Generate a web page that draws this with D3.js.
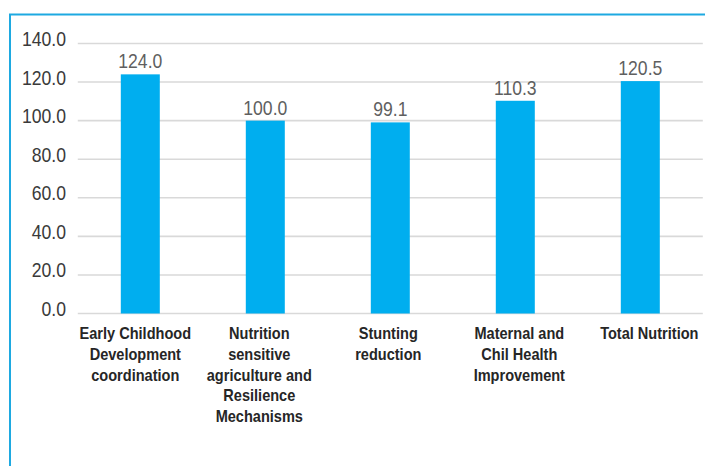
<!DOCTYPE html>
<html><head><meta charset="utf-8">
<script src="https://cdn.jsdelivr.net/npm/d3@7"></script>
<style>
html,body{margin:0;padding:0;background:#fff;}
svg{display:block;}
</style></head>
<body>
<svg id="chart" width="705" height="466"></svg>
<script>
const categories = ["Early Childhood Development coordination","Nutrition sensitive agriculture and Resilience Mechanisms","Stunting reduction","Maternal and Chil Health Improvement","Total Nutrition"];
const categoryLines = [
  ["Early Childhood","Development","coordination"],
  ["Nutrition","sensitive","agriculture and","Resilience","Mechanisms"],
  ["Stunting","reduction"],
  ["Maternal and","Chil Health","Improvement"],
  ["Total Nutrition"]
];
const values = [124.0, 100.0, 99.1, 110.3, 120.5];
const yTicks = [0, 20, 40, 60, 80, 100, 120, 140];

// layout: horizontal nudge of each category label block (px), as in the original
const labelNudge = [-5, -6, -2, 4, 9];

const svg = d3.select("#chart");
const font = "'Liberation Sans',Arial,sans-serif";
const fmt = d3.format(".1f");

// frame lines (top and left)
svg.append("line").attr("x1",9).attr("x2",705).attr("y1",14.5).attr("y2",14.5)
  .attr("stroke","#1ea9e1").attr("stroke-width",2);
svg.append("line").attr("x1",10).attr("x2",10).attr("y1",14).attr("y2",466)
  .attr("stroke","#1ea9e1").attr("stroke-width",2);

const x = d3.scaleBand().domain(categories).range([77.8, 702.8]).paddingInner(0.688).paddingOuter(0.344);
const y = d3.scaleLinear().domain([0,140]).range([313.5, 43.5]);

// gridlines
svg.append("g").selectAll("line").data(yTicks).join("line")
  .attr("x1",77.8).attr("x2",702.8)
  .attr("y1",d=>y(d)).attr("y2",d=>y(d))
  .attr("stroke","#d9d9d9").attr("stroke-width",1.6);

// y axis labels via d3 axis (condensed with horizontal scale)
const yAxis = d3.axisLeft(y).tickValues(yTicks).tickFormat(fmt).tickSize(0).tickPadding(0);
const yg = svg.append("g").attr("transform","translate(66,0)").call(yAxis);
yg.select(".domain").remove();
yg.selectAll("text").attr("font-family",font).attr("font-size",20).attr("fill","#3a3a3a")
  .attr("x",0).attr("y",2).attr("dy",0).attr("transform","scale(0.88,1)");

// bars
svg.append("g").selectAll("rect").data(values).join("rect")
  .attr("x",(d,i)=>x(categories[i]))
  .attr("width",x.bandwidth())
  .attr("y",d=>y(d))
  .attr("height",d=>y(0)-y(d))
  .attr("fill","#00aeef");

// value labels
svg.append("g").selectAll("text").data(values).join("text")
  .attr("transform",(d,i)=>`translate(${x(categories[i])+x.bandwidth()/2},${y(d)-6}) scale(0.88,1)`)
  .attr("text-anchor","middle")
  .attr("font-family",font).attr("font-size",20).attr("fill","#5f5f5f")
  .text(d=>fmt(d));

// category labels
const cg = svg.append("g").selectAll("text").data(categories).join("text")
  .attr("transform",(d,i)=>`translate(${x(d)+x.bandwidth()/2+labelNudge[i]},0) scale(0.91,1)`)
  .attr("text-anchor","middle")
  .attr("font-family",font).attr("font-size",16).attr("font-weight","bold").attr("fill","#262626");
cg.each(function(d,i){
  const t = d3.select(this);
  categoryLines[i].forEach((ln,j)=>{
    t.append("tspan").attr("x",0).attr("y",339.5+j*20.6).text(ln);
  });
});
</script>
</body></html>
